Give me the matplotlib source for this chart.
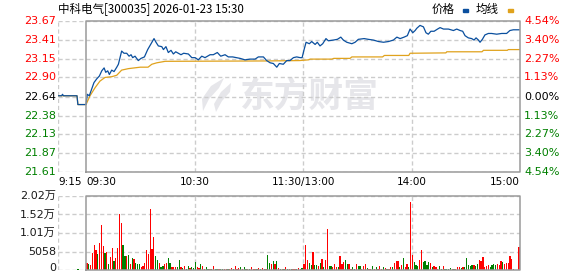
import matplotlib
matplotlib.use("Agg")
import matplotlib.pyplot as plt
from matplotlib.patches import Polygon

plt.rcParams['font.family'] = ['Noto Sans CJK SC', 'DejaVu Sans']

""" Data read off the chart """
title = '中科电气[300035] 2026-01-23 15:30'

# minutes from 09:30 (trading minutes, lunch removed), pre-market is negative
price_t = [-15.5, -13.5, -13, -12.5, -5, -4.5, 0, 0.7, 1.8, 3.1, 4.4, 5.9, 7.4, 8.7, 10,
           10.9, 12, 12.9, 14.2, 15.5, 17, 17.9, 18.8, 19.7, 21, 22.5, 23.8, 24.9, 25.8,
           27.1, 28.9, 30.4, 32.3, 34.1, 36, 37.6, 38.7, 40, 41.9, 42.8, 44.2, 45.5, 47,
           48.3, 49.6, 51, 52.5, 54, 56.6, 58.5, 60.3, 62.1, 64, 65.8, 68.6, 70.4, 72.6,
           74.5, 76.9, 78.7, 81.1, 83.3, 85.2, 87.9, 90.7, 93.5, 95.3, 98.1, 99.9, 101.8,
           103.6, 105.5, 106.9, 109.1, 111, 112.8, 114.7, 116.5, 118.4, 119.5, 120.6,
           121.7, 123.5, 124.8, 126.7, 127.9, 129.4, 130.9, 132.7, 134, 136.8, 139, 140.9,
           142.3, 144.2, 147, 148.8, 150.6, 153.8, 156.1, 158.9, 161.7, 164.5, 167.3, 170,
           171.9, 173.7, 175.9, 177.7, 179.2, 180.7, 182, 182.9, 184.7, 186.6, 188, 189.3,
           190.7, 192.5, 194.4, 195.8, 197.7, 200.4, 203.2, 205, 206.9, 208.3, 209.6,
           211.4, 213.3, 214.6, 215.7, 217, 217.9, 219.2, 220.6, 222.5, 224.3, 227.1,
           229.9, 232.6, 234.4, 236.3, 240]
price = [22.65, 22.65, 22.67, 22.65, 22.65, 22.53, 22.53, 22.67, 22.65, 22.74, 22.83, 22.88,
         22.92, 22.99, 23.03, 22.97, 22.99, 22.94, 23.00, 22.98, 23.04, 23.08, 23.17, 23.26,
         23.23, 23.23, 23.19, 23.21, 23.17, 23.19, 23.13, 23.16, 23.18, 23.28, 23.36, 23.43,
         23.38, 23.33, 23.32, 23.28, 23.32, 23.24, 23.27, 23.22, 23.25, 23.23, 23.21, 23.23,
         23.22, 23.17, 23.17, 23.14, 23.19, 23.17, 23.21, 23.21, 23.24, 23.19, 23.21, 23.18,
         23.18, 23.17, 23.16, 23.14, 23.15, 23.15, 23.18, 23.18, 23.13, 23.10, 23.09, 23.04,
         23.09, 23.08, 23.13, 23.13, 23.17, 23.18, 23.17, 23.17, 23.28, 23.38, 23.36, 23.39,
         23.35, 23.38, 23.33, 23.36, 23.43, 23.40, 23.41, 23.42, 23.45, 23.41, 23.38, 23.36,
         23.38, 23.42, 23.43, 23.42, 23.41, 23.39, 23.38, 23.39, 23.41, 23.45, 23.43, 23.45,
         23.47, 23.56, 23.51, 23.54, 23.57, 23.61, 23.59, 23.51, 23.49, 23.53, 23.53, 23.56,
         23.58, 23.56, 23.56, 23.54, 23.56, 23.54, 23.53, 23.47, 23.44, 23.43, 23.41, 23.44,
         23.41, 23.38, 23.42, 23.48, 23.50, 23.50, 23.49, 23.50, 23.50, 23.54, 23.55, 23.55]

avg_t = [-15.5, -5, -4.5, 0, 2.2, 5, 7.7, 10.5, 14.2, 17, 19.7, 23.4, 30, 34.3, 36.4, 39.2,
         43.8, 100, 118, 123, 124, 136, 137, 146, 147, 164, 165, 178.5, 179.2, 199, 199.5,
         219, 219.8, 233, 233.5, 240]
avg = [22.65, 22.65, 22.53, 22.53, 22.65, 22.76, 22.85, 22.90, 22.91, 22.93, 23.00, 23.02,
       23.04, 23.04, 23.08, 23.10, 23.12, 23.125, 23.13, 23.14, 23.15, 23.15, 23.16, 23.16,
       23.18, 23.18, 23.20, 23.20, 23.23, 23.235, 23.25, 23.25, 23.27, 23.27, 23.28, 23.28]

# one bar per trading minute, 09:30 .. 14:59
vol = [1820, 1638, 1365, 4732, 6825, 5460, 4368, 7462, 12285, 6552, 4732, 5005, 1638, 3458,
       5915, 2548, 3185, 5915, 15288, 12740, 6825, 3822, 3822, 4095, 1638, 3185, 2912, 2002,
       1638, 1638, 728, 1092, 2002, 5460, 4368, 16653, 5642, 8918, 3822, 2730, 1820, 728,
       1092, 1638, 1820, 3185, 1820, 728, 728, 728, 728, 2730, 728, 455, 1092, 182, 1092,
       455, 728,
       455, 2275, 910, 455, 1638, 1092, 273, 910, 273, 273, 273, 1092, 273, 273, 273, 273,
       273, 273, 273, 273, 273, 637, 273, 1092, 273, 637, 910, 273, 728, 273, 273, 273, 910,
       273, 273, 273, 546, 273, 546, 273, 273, 4095, 2002, 1638, 2457, 1638, 2457, 637, 273,
       273, 273, 910, 273, 273, 273, 273, 273, 273, 637, 273, 455,
       1638, 6825, 2730, 2002, 1365, 5005, 1365, 1365, 1092, 2002, 2912, 728, 2730, 11193,
       1092, 1092, 910, 1638, 728, 728, 3822, 1638, 2184, 2730, 1638, 1638, 273, 728, 273,
       1638, 1092, 1092, 273, 1092, 1638, 546, 273, 273, 1092, 273, 728, 273, 1092, 273, 728,
       455, 273, 273, 728, 728, 2002, 2457, 2457, 728, 1365, 3185, 728, 1638, 728, 18655,
       4095, 2275, 1365, 1092, 2730, 5460, 2275, 2548, 1365, 2184, 2002, 910, 1092, 728, 273,
       1092, 273, 1092, 273, 273, 273, 455, 273, 273, 273, 910, 910, 637, 910, 910, 3185,
       1365, 1092, 1365, 1365, 1092, 1638, 2730, 2548, 3640, 910, 1092, 1365, 910, 1365,
       1638, 1365, 1638, 1365, 2548, 2275, 1638, 2002, 2002, 3822, 3003, 273, 0, 0, 6370]
# r = up minute, g = down minute
vol_up = ('rgrrrrgrrr' 'grgrrgrrrr' 'ggrgrgrggg' 'rrrrrrrrgg' 'rggrrggrrr' 'ggrgrggrg'
          'ggrrgrrggr' 'grggrggrrg' 'rrgrrrgrgg' 'rgrrrgrgrg' 'rggrgrgrgr' 'grgrgrrgr'
          'rg'
          'rrrggrggrg' 'rgrrggrrrg' 'rrrggrrggr' 'ggrrrgrrgr' 'grrrgrgrrg' 'rrrgrgrrgr'
          'rgggrrgggg' 'rgrrrggrgg' 'ggrgrrrgrg' 'ggggrggrrr' 'rrrggggrrr' 'grrrrrrrrr')
pre_t, pre_vol = -4.4, 300

price_ticks = [23.67, 23.41, 23.15, 22.90, 22.64, 22.38, 22.13, 21.87, 21.61]
price_labels = ['23.67', '23.41', '23.15', '22.90', '22.64', '22.38', '22.13', '21.87', '21.61']
pct_labels = ['4.54%', '3.40%', '2.27%', '1.13%', '0.00%', '1.13%', '2.27%', '3.40%', '4.54%']
vol_ticks = [20233, 15175, 10117, 5058, 0]
vol_labels = ['2.02万', '1.52万', '1.01万', '5058', '0']
time_ticks = [-15.5, 0, 60, 120, 180, 240]
time_labels = ['9:15', '09:30', '10:30', '11:30/13:00', '14:00', '15:00']

RED, GREEN, BLACK = '#ff0000', '#008000', '#000000'
GRID, BORDER = '#cccccc', '#9a9a9a'
W, H = 578, 276

fig = plt.figure(figsize=(W / 100, H / 100), dpi=100)

def box(x0, y0, x1, y1):
    return [x0 / W, 1 - y1 / H, (x1 - x0) / W, (y1 - y0) / H]

ax = fig.add_axes(box(58, 21, 520, 172))
axv = fig.add_axes(box(58, 196, 520, 270))

for a, lo, hi in [(ax, 21.61, 23.67), (axv, 0, 20233)]:
    a.set_xlim(-15.5, 240)
    a.set_ylim(lo, hi)
    for s in a.spines.values():
        s.set_visible(False)
    a.set_xticks([])
    a.set_yticks([])
    # dashed grid
    a.axvline(-15.5, color=GRID, lw=1, ls=(0, (3, 2)), zorder=0.5)
    for t in [60, 120, 180]:
        a.axvline(t, color=GRID, lw=1, ls=(0, (3, 2)), zorder=0.5)
    # solid frame of the trading session
    a.plot([0, 240, 240, 0, 0], [lo, lo, hi, hi, lo], color=BORDER, lw=1.1,
           clip_on=False, zorder=4, solid_capstyle='projecting')

for v in price_ticks:
    ax.axhline(v, color=GRID, lw=1, ls=(0, (3, 2)), zorder=0.5)
for v in vol_ticks:
    axv.axhline(v, color=GRID, lw=1, ls=(0, (3, 2)), zorder=0.5)

# watermark
ax.text(309 / W, 1 - 96 / H, '东方财富', transform=fig.transFigure, ha='center', va='center',
        fontsize=25, fontweight='bold', color='#e6e6ea', zorder=0.2)
for pts in [[(224, 78), (211, 86), (202, 99), (203, 111), (209, 99), (219, 88)],
            [(231, 83), (221, 92), (214, 104), (216, 112), (222, 101), (230, 92)]]:
    ax.add_patch(Polygon([(x / W, 1 - y / H) for x, y in pts], closed=True,
                         transform=fig.transFigure, facecolor='#e6e6ea',
                         edgecolor='none', zorder=0.2))

ax.plot(avg_t, avg, color='#e0a21c', lw=0.9, zorder=2)
ax.plot(price_t, price, color='#0a4f9e', lw=0.9, zorder=3)

bar_t = [k + 0.5 for k in range(len(vol))]
bar_c = [RED if c == 'r' else GREEN for c in vol_up]
axv.bar(bar_t, vol, width=0.7, color=bar_c, zorder=2, antialiased=False)
axv.bar([pre_t], [pre_vol], width=0.7, color=GREEN, zorder=2, antialiased=False)

# axis labels
mid = price_ticks.index(22.64)
for i, (v, lab, pl) in enumerate(zip(price_ticks, price_labels, pct_labels)):
    c = RED if i < mid else (BLACK if i == mid else GREEN)
    ax.annotate(lab, xy=(0, v), xycoords=('axes fraction', 'data'), xytext=(-1.5, 0),
                textcoords='offset points', ha='right', va='center', fontsize=8,
                color=c, family='DejaVu Sans', annotation_clip=False)
    ax.annotate(pl, xy=(1, v), xycoords=('axes fraction', 'data'), xytext=(3, 0),
                textcoords='offset points', ha='left', va='center', fontsize=8,
                color=c, family='DejaVu Sans', annotation_clip=False)

for v, lab in zip(vol_ticks, vol_labels):
    axv.annotate(lab, xy=(0, v), xycoords=('axes fraction', 'data'),
                 xytext=(-1.5, 1.5 if v == 0 else 0), textcoords='offset points',
                 ha='right', va='center', fontsize=8, color='#1a1a1a',
                 family=['DejaVu Sans', 'Noto Sans CJK SC'], annotation_clip=False)

aligns = ['left', 'left', 'center', 'center', 'center', 'right']
for t, lab, al in zip(time_ticks, time_labels, aligns):
    ax.annotate(lab, xy=(t, 0), xycoords=('data', 'axes fraction'), xytext=(0, -7.5),
                textcoords='offset points', ha=al, va='center', fontsize=7.5,
                color=BLACK, family='DejaVu Sans', annotation_clip=False)

# title and legend
fig.text(58 / W, 1 - 9 / H, title, ha='left', va='center', fontsize=8.3, color=BLACK)
fig.text(432 / W, 1 - 9 / H, '价格', ha='left', va='center', fontsize=8.3, color=BLACK)
fig.text(476 / W, 1 - 9 / H, '均线', ha='left', va='center', fontsize=8.3, color=BLACK)
fig.patches.append(plt.Rectangle((463 / W, 1 - 12 / H), 5 / W, 3 / H,
                                 transform=fig.transFigure, color='#0a4f9e'))
fig.patches.append(plt.Rectangle((508 / W, 1 - 12 / H), 5 / W, 3 / H,
                                 transform=fig.transFigure, color='#e0a21c'))

fig.savefig('out.png', dpi=100)
